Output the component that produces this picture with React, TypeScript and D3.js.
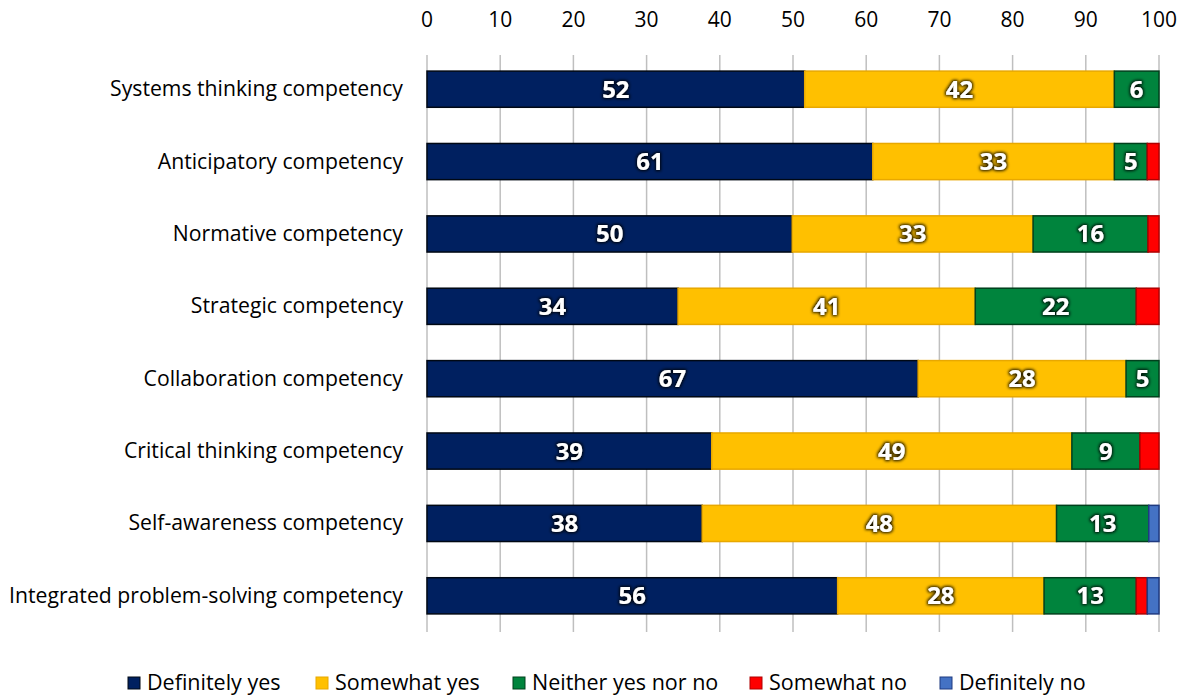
import React from "react";
import * as d3 from "d3";

const categories = [
  "Systems thinking competency",
  "Anticipatory competency",
  "Normative competency",
  "Strategic competency",
  "Collaboration competency",
  "Critical thinking competency",
  "Self-awareness competency",
  "Integrated problem-solving competency",
];
const seriesNames = ["Definitely yes", "Somewhat yes", "Neither yes nor no", "Somewhat no", "Definitely no"];
const definitelyYes = [51.6, 60.9, 49.9, 34.3, 67.1, 38.9, 37.6, 56.1];
const somewhatYes = [42.3, 33.0, 32.9, 40.6, 28.4, 49.2, 48.4, 28.2];
const neither = [6.1, 4.5, 15.7, 22.0, 4.5, 9.3, 12.6, 12.6];
const somewhatNo = [0, 1.6, 1.5, 3.1, 0, 2.6, 0, 1.5];
const definitelyNo = [0, 0, 0, 0, 0, 0, 1.4, 1.6];
const xTicks = [0, 10, 20, 30, 40, 50, 60, 70, 80, 90, 100];
const colors = ["#002060", "#FFC000", "#00843D", "#FF0000", "#4472C4"];
const borders = ["#000814", "#E8A800", "#00401C", "#B00000", "#1F3A80"];

const FONT = "'Open Sans', Lato, sans-serif";

export default function App() {
  const W = 1186, H = 695;
  const left = 427, right = 1159, top = 53, bottom = 632;
  const x = d3.scaleLinear().domain([0, 100]).range([left, right]);
  const y = d3.scaleBand().domain(categories).range([top, bottom]).paddingInner(0.5).paddingOuter(0.25);
  const series = [definitelyYes, somewhatYes, neither, somewhatNo, definitelyNo];
  const rows = categories.map((c, i) => {
    const o: any = { cat: c };
    seriesNames.forEach((s, j) => (o[s] = series[j][i]));
    return o;
  });
  const stacked = d3.stack().keys(seriesNames)(rows);
  const legendX = [128, 316, 513, 750, 940];

  return (
    <svg width={W} height={H} style={{ position: "absolute", left: 0, top: 0, background: "#fff" }} fontFamily={FONT}>
      <defs>
        <filter id="glow" x="-30%" y="-30%" width="160%" height="160%">
          <feMorphology in="SourceAlpha" operator="dilate" radius="1.2" result="d" />
          <feGaussianBlur in="d" stdDeviation="1.4" result="b" />
          <feFlood floodColor="#000" floodOpacity="0.9" />
          <feComposite in2="b" operator="in" result="s" />
          <feMerge>
            <feMergeNode in="s" />
            <feMergeNode in="SourceGraphic" />
          </feMerge>
        </filter>
      </defs>
      {xTicks.map((t) => (
        <g key={t}>
          <line x1={x(t)} x2={x(t)} y1={top + 2} y2={bottom} stroke="#bfbfbf" strokeWidth={1.5} />
          <text x={x(t)} y={27} textAnchor="middle" fontSize={21} fill="#000">{t}</text>
        </g>
      ))}
      {stacked.map((s, j) =>
        s.map((d, i) => {
          const w = x(d[1]) - x(d[0]);
          if (w <= 0) return null;
          return (
            <rect key={j + "-" + i} x={x(d[0])} y={y(categories[i])!} width={w} height={y.bandwidth()}
              fill={colors[j]} stroke={borders[j]} strokeWidth={1.5} />
          );
        })
      )}
      {stacked.map((s, j) =>
        s.map((d, i) => {
          const v = d[1] - d[0];
          if (v < 4) return null;
          return (
            <text key={"l" + j + "-" + i} x={(x(d[0]) + x(d[1])) / 2} y={y(categories[i])! + y.bandwidth() / 2 + 8.5}
              textAnchor="middle" fontSize={24} fontWeight="bold" fill="#fff" filter="url(#glow)">
              {Math.round(v)}
            </text>
          );
        })
      )}
      {categories.map((c) => (
        <text key={c} x={403} y={y(c)! + y.bandwidth() / 2 + 7} textAnchor="end" fontSize={21.2} fill="#000">{c}</text>
      ))}
      {seriesNames.map((s, j) => (
        <g key={s}>
          <rect x={legendX[j]} y={677} width={12} height={12} fill={colors[j]} stroke={borders[j]} strokeWidth={1} />
          <text x={legendX[j] + 19} y={690} fontSize={21.5} fill="#000">{s}</text>
        </g>
      ))}
    </svg>
  );
}
